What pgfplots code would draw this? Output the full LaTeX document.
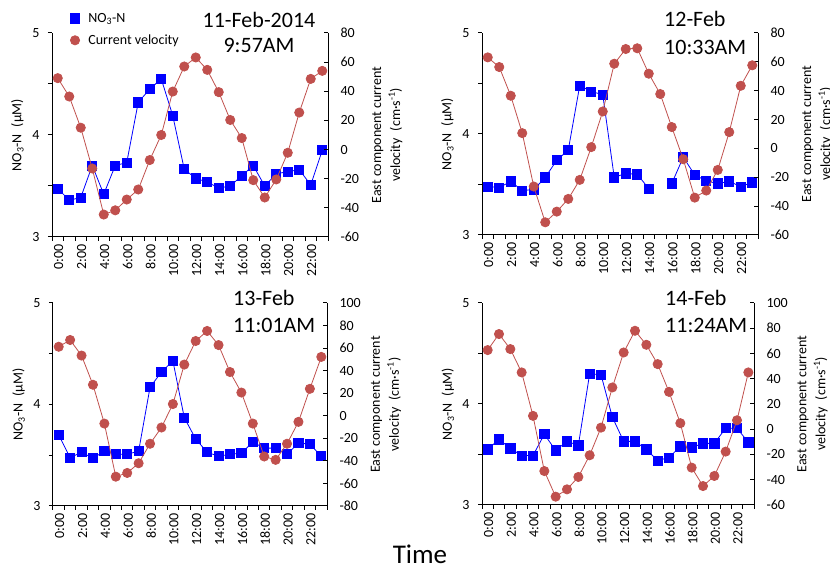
\documentclass[border=0pt]{standalone}
\usepackage{pgfplots}
\pgfplotsset{compat=1.18}
\usepackage{pgfplotstable}
\usepackage{fontspec}
\setmainfont{Carlito}
\definecolor{nblue}{RGB}{0,0,255}
\definecolor{vred}{RGB}{192,80,77}
\newcommand\fs{\fontsize{14}{19}\selectfont}

\pgfplotstableread{
h n v
0 3.475 49
1 3.36 36.4
2 3.387 15
3 3.70 -13
4 3.42 -44.6
5 3.70 -41.7
6 3.73 -34.3
7 4.32 -27.4
8 4.45 -7.2
9 4.55 10
10 4.19 39.8
11 3.665 57
12 3.574 63.2
13 3.54 54.7
14 3.48 39.4
15 3.50 20.3
16 3.60 7.9
17 3.70 -21
18 3.50 -32.9
19 3.62 -20.5
20 3.64 -2.2
21 3.66 25.4
22 3.51 48.5
23 3.85 54
}\dataA
\pgfplotstableread{
h n v
0 3.48 63.1
1 3.47 56.4
2 3.53 36.5
3 3.44 10.6
4 3.45 -26.4
5 3.57 -51.2
6 3.74 -43.8
7 3.84 -35
8 4.48 -21.8
9 4.42 0.9
10 4.39 25.6
11 3.57 58.7
12 3.61 68.9
13 3.60 69.4
14 3.46 51.8
15 nan 37.7
16 3.51 14.8
17 3.77 -7.5
18 3.595 -34.1
19 3.535 -29.2
20 3.51 -14.9
21 3.53 11.3
22 3.48 43.4
23 3.52 57.6
}\dataB
\pgfplotstableread{
h n v
0 3.70 61.2
1 3.475 67.2
2 3.53 53.4
3 3.47 27.5
4 3.54 -6.9
5 3.51 -54
6 3.51 -50.7
7 3.54 -42.1
8 4.17 -24.8
9 4.32 -10.4
10 4.43 10.4
11 3.87 45.4
12 3.66 66.3
13 3.53 75.2
14 3.49 62.7
15 3.51 38.8
16 3.52 20.6
17 3.63 -6.9
18 3.57 -36.1
19 3.57 -39.1
20 3.51 -24.8
21 3.62 -5.4
22 3.61 23.9
23 3.49 52.2
}\dataC
\pgfplotstableread{
h n v
0 3.55 62.7
1 3.65 75.4
2 3.56 63.5
3 3.49 45
4 3.49 10.6
5 3.70 -33.1
6 3.54 -53.4
7 3.63 -47.6
8 3.59 -37.8
9 4.30 -20.6
10 4.29 1.3
11 3.87 33.1
12 3.63 60.8
13 3.63 78
14 3.55 66.9
15 3.44 51.6
16 3.47 29.6
17 3.58 4.8
18 3.57 -30.4
19 3.61 -45
20 3.61 -37
21 3.76 -17.7
22 3.76 7.1
23 3.62 45
}\dataD

\pgfplotsset{
  panel/.style={
    scale only axis,
    anchor=south west,
    xmin=-0.5, xmax=23.5,
    /pgf/number format/assume math mode=true,
    tick label style={font=\fs},
    label style={font=\fs},
    axis line style={line width=1pt},
    major tick style={line width=1pt, black},
    minor tick style={line width=1pt, black},
    major tick length=4pt,
    minor tick length=4pt,
    unbounded coords=jump,
  },
  leftax/.style={
    panel,
    axis x line*=bottom,
    axis y line*=left,
    tick align=outside,
    ymin=3, ymax=5,
    ytick={3,4,5},
    minor ytick={3.5,4.5},
    yticklabel style={xshift=-5pt},
    xtick={-0.5,0.5,...,23.5},
    xticklabels={},
    extra x ticks={0,2,...,22},
    extra x tick labels={0:00,2:00,4:00,6:00,8:00,10:00,12:00,14:00,16:00,18:00,20:00,22:00},
    extra x tick style={tick style={draw=none}},
    xticklabel style={rotate=90, anchor=east, yshift=-1pt},
    ylabel={NO\textsubscript{3}-N\enspace(µM)},
    ylabel style={at={(axis description cs:-0.125,0.5)}, anchor=center},
  },
  rightax/.style={
    panel,
    axis x line=none,
    axis y line*=right,
    tick align=inside,
    ytick distance=20,
    yticklabel style={xshift=9pt},
    ylabel={East component current\\velocity\enspace(cm·s\textsuperscript{-1})},
    ylabel style={at={(axis description cs:1.215,0.5)}, anchor=center, rotate=0, align=center},
  },
  nplot/.style={color=nblue, line width=0.8pt, mark=square*, mark size=4.6pt, mark options={fill=nblue, draw=none}},
  vplot/.style={color=vred, line width=0.8pt, mark=*, mark size=4.6pt, mark options={fill=vred, draw=none}},
}

\begin{document}
\begin{tikzpicture}[x=1pt,y=1pt]
\useasboundingbox (0,0) rectangle (830,572);

% Panel 1
\begin{axis}[leftax, at={(52pt,335pt)}, width=276pt, height=204pt]
\addplot[nplot] table[x=h,y=n] {\dataA};
\end{axis}
\begin{axis}[rightax, at={(52pt,335pt)}, width=276pt, height=204pt, ymin=-60, ymax=80,
  legend style={at={(axis description cs:0.045,1.118)}, anchor=north west, draw=none, fill=none, font=\fs, row sep=7pt},
  legend cell align=left,
  legend image code/.code={\path (-2pt,0pt) (16pt,0pt); \draw[#1] plot coordinates {(5pt,0pt)};}]
\addlegendimage{nplot, only marks}
\addlegendentry{NO\textsubscript{3}-N}
\addlegendimage{vplot, only marks}
\addlegendentry{Current velocity}
\addplot[vplot, forget plot] table[x=h,y=v] {\dataA};
\end{axis}

% Panel 2
\begin{axis}[leftax, at={(482pt,337pt)}, width=276pt, height=202pt]
\addplot[nplot] table[x=h,y=n] {\dataB};
\end{axis}
\begin{axis}[rightax, at={(482pt,337pt)}, width=276pt, height=202pt, ymin=-60, ymax=80]
\addplot[vplot] table[x=h,y=v] {\dataB};
\end{axis}

% Panel 3
\begin{axis}[leftax, at={(53pt,66pt)}, width=274pt, height=203pt]
\addplot[nplot] table[x=h,y=n] {\dataC};
\end{axis}
\begin{axis}[rightax, at={(53pt,66pt)}, width=274pt, height=203pt, ymin=-80, ymax=100]
\addplot[vplot] table[x=h,y=v] {\dataC};
\end{axis}

% Panel 4
\begin{axis}[leftax, at={(482pt,67pt)}, width=272pt, height=202pt]
\addplot[nplot] table[x=h,y=n] {\dataD};
\end{axis}
\begin{axis}[rightax, at={(482pt,67pt)}, width=272pt, height=202pt, ymin=-60, ymax=100]
\addplot[vplot] table[x=h,y=v] {\dataD};
\end{axis}

\begin{scope}[every node/.style={font=\fontsize{22}{26}\selectfont, inner sep=0pt}]
\node at (259,552) {11-Feb-2014};
\node at (259,527) {9:57AM};
\node[anchor=west] at (664,553) {12-Feb};
\node[anchor=west] at (664,525) {10:33AM};
\node[anchor=west] at (233,274) {13-Feb};
\node[anchor=west] at (233,247) {11:01AM};
\node[anchor=west] at (665,274) {14-Feb};
\node[anchor=west] at (665,247) {11:24AM};
\end{scope}
\node[font=\fontsize{27}{30}\selectfont, inner sep=0pt] at (420,18) {Time};
\end{tikzpicture}
\end{document}
